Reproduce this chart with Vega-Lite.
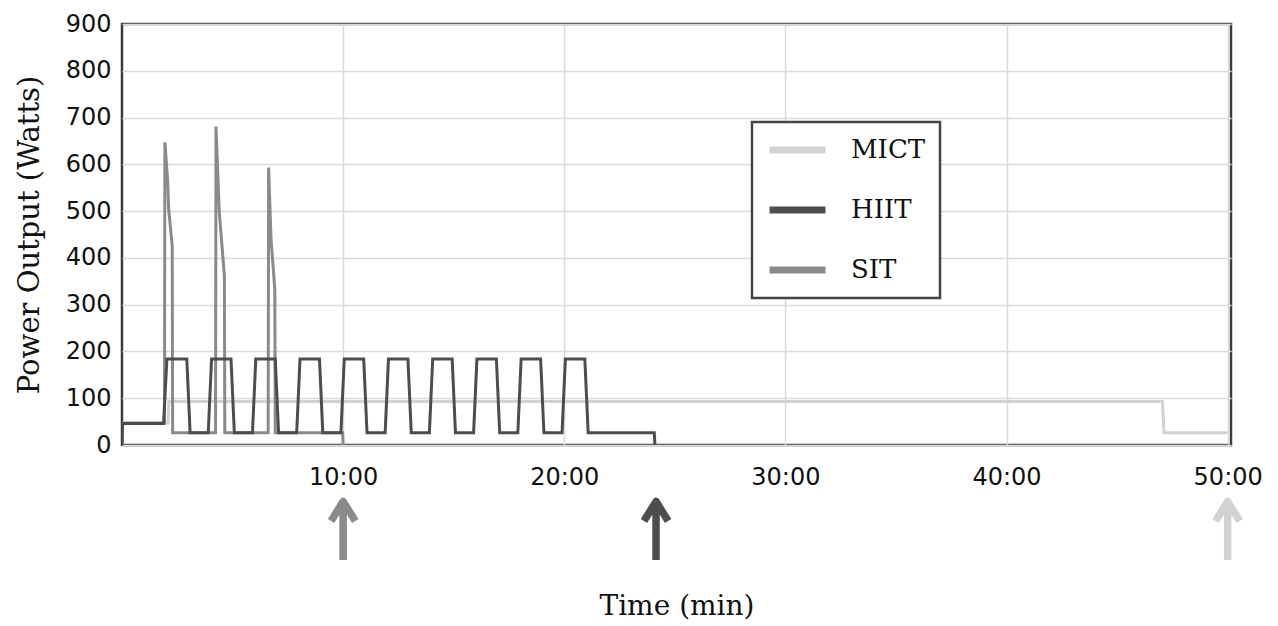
{
  "$schema": "https://vega.github.io/schema/vega-lite/v6.json",
  "background": "white",
  "padding": {"left": 13, "top": 10, "right": 10, "bottom": 0},
  "spacing": 0,
  "datasets": {
    "power": [
      {"protocol": "MICT", "t": 0, "w": 0},
      {"protocol": "MICT", "t": 0.02, "w": 47},
      {"protocol": "MICT", "t": 2.08, "w": 47},
      {"protocol": "MICT", "t": 2.12, "w": 93},
      {"protocol": "MICT", "t": 47.05, "w": 93},
      {"protocol": "MICT", "t": 47.12, "w": 26},
      {"protocol": "MICT", "t": 50, "w": 26},
      {"protocol": "SIT", "t": 0, "w": 0},
      {"protocol": "SIT", "t": 0.03, "w": 47},
      {"protocol": "SIT", "t": 1.92, "w": 47},
      {"protocol": "SIT", "t": 1.94, "w": 647},
      {"protocol": "SIT", "t": 2.07, "w": 561},
      {"protocol": "SIT", "t": 2.11, "w": 504},
      {"protocol": "SIT", "t": 2.27, "w": 426},
      {"protocol": "SIT", "t": 2.29, "w": 26},
      {"protocol": "SIT", "t": 4.23, "w": 26},
      {"protocol": "SIT", "t": 4.25, "w": 681},
      {"protocol": "SIT", "t": 4.4, "w": 497},
      {"protocol": "SIT", "t": 4.63, "w": 362},
      {"protocol": "SIT", "t": 4.65, "w": 26},
      {"protocol": "SIT", "t": 6.61, "w": 26},
      {"protocol": "SIT", "t": 6.63, "w": 593},
      {"protocol": "SIT", "t": 6.74, "w": 440},
      {"protocol": "SIT", "t": 6.91, "w": 333},
      {"protocol": "SIT", "t": 6.93, "w": 26},
      {"protocol": "SIT", "t": 9.98, "w": 26},
      {"protocol": "SIT", "t": 10.0, "w": 0},
      {"protocol": "HIIT", "t": 0, "w": 0},
      {"protocol": "HIIT", "t": 0.03, "w": 46},
      {"protocol": "HIIT", "t": 1.88, "w": 46},
      {"protocol": "HIIT", "t": 2.03, "w": 184},
      {"protocol": "HIIT", "t": 2.93, "w": 184},
      {"protocol": "HIIT", "t": 3.08, "w": 26},
      {"protocol": "HIIT", "t": 3.9, "w": 26},
      {"protocol": "HIIT", "t": 4.05, "w": 184},
      {"protocol": "HIIT", "t": 4.93, "w": 184},
      {"protocol": "HIIT", "t": 5.08, "w": 26},
      {"protocol": "HIIT", "t": 5.9, "w": 26},
      {"protocol": "HIIT", "t": 6.05, "w": 184},
      {"protocol": "HIIT", "t": 6.93, "w": 184},
      {"protocol": "HIIT", "t": 7.08, "w": 26},
      {"protocol": "HIIT", "t": 7.9, "w": 26},
      {"protocol": "HIIT", "t": 8.05, "w": 184},
      {"protocol": "HIIT", "t": 8.93, "w": 184},
      {"protocol": "HIIT", "t": 9.08, "w": 26},
      {"protocol": "HIIT", "t": 9.9, "w": 26},
      {"protocol": "HIIT", "t": 10.05, "w": 184},
      {"protocol": "HIIT", "t": 10.93, "w": 184},
      {"protocol": "HIIT", "t": 11.08, "w": 26},
      {"protocol": "HIIT", "t": 11.9, "w": 26},
      {"protocol": "HIIT", "t": 12.05, "w": 184},
      {"protocol": "HIIT", "t": 12.93, "w": 184},
      {"protocol": "HIIT", "t": 13.08, "w": 26},
      {"protocol": "HIIT", "t": 13.9, "w": 26},
      {"protocol": "HIIT", "t": 14.05, "w": 184},
      {"protocol": "HIIT", "t": 14.93, "w": 184},
      {"protocol": "HIIT", "t": 15.08, "w": 26},
      {"protocol": "HIIT", "t": 15.9, "w": 26},
      {"protocol": "HIIT", "t": 16.05, "w": 184},
      {"protocol": "HIIT", "t": 16.93, "w": 184},
      {"protocol": "HIIT", "t": 17.08, "w": 26},
      {"protocol": "HIIT", "t": 17.9, "w": 26},
      {"protocol": "HIIT", "t": 18.05, "w": 184},
      {"protocol": "HIIT", "t": 18.93, "w": 184},
      {"protocol": "HIIT", "t": 19.08, "w": 26},
      {"protocol": "HIIT", "t": 19.9, "w": 26},
      {"protocol": "HIIT", "t": 20.05, "w": 184},
      {"protocol": "HIIT", "t": 20.93, "w": 184},
      {"protocol": "HIIT", "t": 21.08, "w": 26},
      {"protocol": "HIIT", "t": 24.07, "w": 26},
      {"protocol": "HIIT", "t": 24.1, "w": 0}
    ],
    "ends": [
      {"protocol": "SIT", "t": 10.0},
      {"protocol": "HIIT", "t": 24.15},
      {"protocol": "MICT", "t": 50}
    ]
  },
  "vconcat": [
    {
      "width": 1109,
      "height": 421,
      "data": {"name": "power"},
      "mark": {"type": "line", "strokeWidth": 3, "strokeJoin": "miter", "clip": true},
      "encoding": {
        "x": {
          "field": "t", "type": "quantitative",
          "scale": {"domain": [0, 50.15], "nice": false, "zero": false},
          "axis": {"values": [10, 20, 30, 40, 50], "labelExpr": "datum.value + ':00'", "title": null, "grid": true, "labelPadding": 20, "labelFlush": false}
        },
        "y": {
          "field": "w", "type": "quantitative",
          "scale": {"domain": [0, 900], "nice": false},
          "axis": {"values": [0, 100, 200, 300, 400, 500, 600, 700, 800, 900], "title": "Power Output (Watts)", "titleFontSize": 29, "grid": true, "labelPadding": 11, "titlePadding": 21}
        },
        "color": {
          "field": "protocol", "type": "nominal",
          "scale": {"domain": ["MICT", "HIIT", "SIT"], "range": ["#d2d2d2", "#4d4d4d", "#8a8a8a"]},
          "legend": {
            "orient": "none", "legendX": 630, "legendY": 98, "title": null,
            "symbolType": "stroke", "symbolSize": 3136, "symbolStrokeWidth": 7,
            "labelFont": "DejaVu Serif", "labelFontSize": 26, "labelColor": "#111",
            "labelOffset": 22, "padding": 14, "rowPadding": 32, "clipHeight": 28,
            "strokeColor": "#444", "fillColor": "white",
            "encode": {"legend": {"update": {"strokeWidth": {"value": 2.5}}}}
          }
        },
        "order": {"field": "t"}
      }
    },
    {
      "width": 1109,
      "height": 76,
      "view": {"stroke": null},
      "data": {"name": "ends"},
      "mark": {"type": "point", "shape": "M0,1L0,-0.89M-0.39,-0.26L0,-0.89L0.39,-0.26", "filled": false, "size": 3844, "strokeWidth": 7.5, "strokeCap": "butt", "strokeJoin": "round", "opacity": 1},
      "encoding": {
        "x": {
          "field": "t", "type": "quantitative",
          "scale": {"domain": [0, 50.15], "nice": false, "zero": false},
          "axis": {"title": "Time (min)", "labels": false, "grid": false, "titlePadding": 25}
        },
        "color": {
          "field": "protocol", "type": "nominal",
          "scale": {"domain": ["MICT", "HIIT", "SIT"], "range": ["#d2d2d2", "#4d4d4d", "#8a8a8a"]},
          "legend": null
        }
      }
    }
  ],
  "resolve": {"scale": {"x": "independent", "color": "independent"}, "legend": {"color": "independent"}},
  "config": {
    "view": {"stroke": "#3c3c3c", "strokeWidth": 2.5},
    "axis": {
      "labelFont": "DejaVu Sans", "labelFontSize": 24, "labelColor": "#111",
      "titleFont": "DejaVu Serif", "titleFontSize": 28, "titleFontWeight": "normal", "titleColor": "#111",
      "gridColor": "#dadada", "gridWidth": 1.5, "ticks": false, "tickSize": 0, "domain": false
    }
  }
}
